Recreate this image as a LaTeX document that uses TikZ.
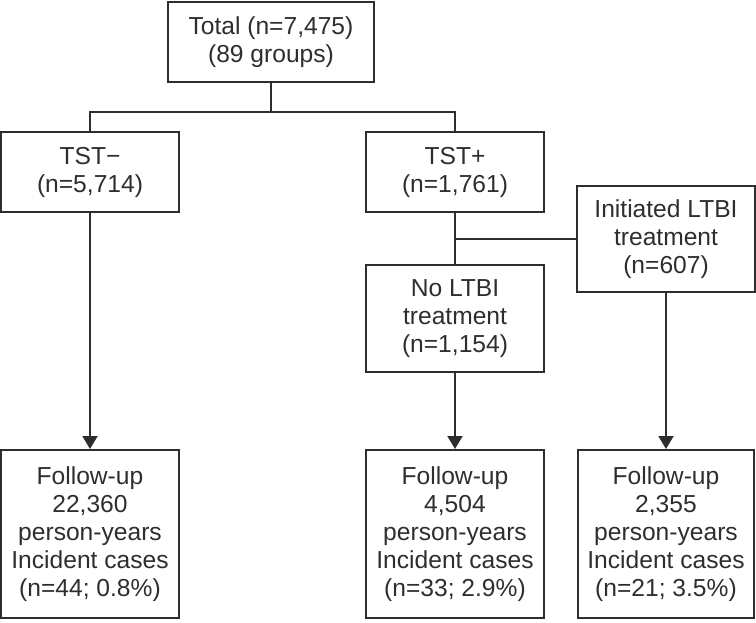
\documentclass[tikz,border=0pt]{standalone}
\usepackage{fontspec}
\setmainfont{Liberation Sans}
\usetikzlibrary{arrows.meta}
\definecolor{ink}{HTML}{2E2E2E}
\begin{document}
\begin{tikzpicture}[x=0.5pt, y=-0.5pt, line width=1pt, color=ink,
  box/.style={draw, align=center, inner sep=0pt, minimum width=89pt, font=\fontsize{12.3}{14}\selectfont},
  arr/.style={-{Triangle[width=7.5pt,length=6.5pt]}}]
       \useasboundingbox (0,0) rectangle (756,622);
       \node[box, minimum width=103pt, minimum height=40pt] (total) at (271, 42) {Total (n=7,475)\\(89 groups)};
       \node[box, minimum height=40pt] (tstneg) at (90, 172) {TST−\\(n=5,714)};
       \node[box, minimum height=40pt] (tstpos) at (455, 172) {TST+\\(n=1,761)};
       \node[box, minimum height=53pt] (init) at (666, 239) {Initiated LTBI\\treatment\\(n=607)};
       \node[box, minimum height=53.5pt] (noltbi) at (455, 318.5) {No LTBI\\treatment\\(n=1,154)};
       \node[box, minimum height=84pt] (fu1) at (90, 534) {Follow-up\\22,360\\person-years\\Incident cases\\(n=44; 0.8\%)};
       \node[box, minimum height=84pt] (fu2) at (455, 534) {Follow-up\\4,504\\person-years\\Incident cases\\(n=33; 2.9\%)};
       \node[box, minimum width=88pt, minimum height=84pt] (fu3) at (666, 534) {Follow-up\\2,355\\person-years\\Incident cases\\(n=21; 3.5\%)};
       \coordinate (split) at (271, 112);
       \coordinate (branch) at (455, 239);

       \draw (total) -- (split);
       \draw (tstneg) |- (split) -| (tstpos);
       \draw (tstpos) -- (noltbi);
       \draw (branch) -- (init);
       \draw[arr] (tstneg) -- (fu1);
       \draw[arr] (noltbi) -- (fu2);
       \draw[arr] (init) -- (fu3);
     \end{tikzpicture}
\end{document}
